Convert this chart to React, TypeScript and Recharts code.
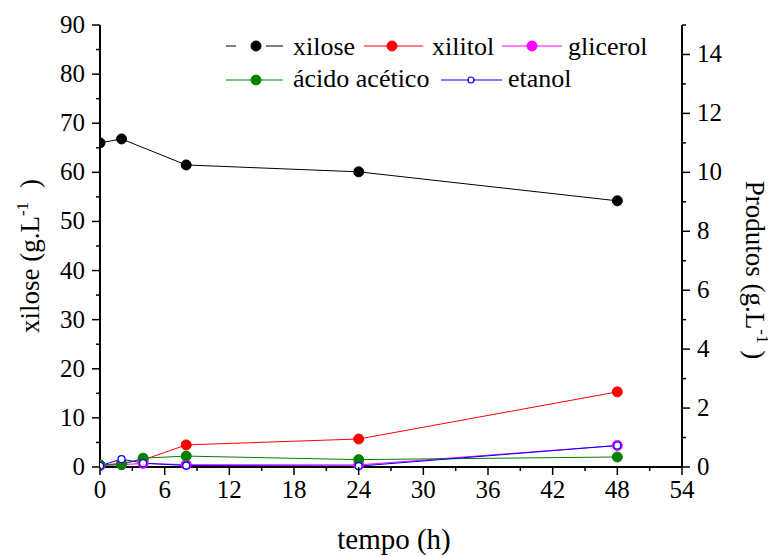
import React from "react";
import { LineChart, Line, XAxis, YAxis } from "recharts";

// tempo (h)
const tempo = [0, 2, 4, 8, 24, 48];
// left axis, g/L
const xilose = [66.0, 66.8, null, 61.5, 60.1, 54.2];
// right axis, g/L
const xilitol = [0.05, 0.13, 0.24, 0.75, 0.95, 2.55];
const glicerol = [0.05, 0.08, 0.12, 0.08, 0.07, 0.73];
const acidoAcetico = [0.07, 0.08, 0.3, 0.37, 0.25, 0.34];
const etanol = [0.04, 0.27, 0.13, 0.05, 0.03, 0.73];

const xTicks = [0, 3, 6, 9, 12, 15, 18, 21, 24, 27, 30, 33, 36, 39, 42, 45, 48, 51, 54];
const leftTicks = [0, 5, 10, 15, 20, 25, 30, 35, 40, 45, 50, 55, 60, 65, 70, 75, 80, 85, 90];
const rightTicks = [0, 1, 2, 3, 4, 5, 6, 7, 8, 9, 10, 11, 12, 13, 14, 15];

const rows = tempo.map((t, i) => ({
    tempo: t,
    xilose: xilose[i],
    xilitol: xilitol[i],
    glicerol: glicerol[i],
    acidoAcetico: acidoAcetico[i],
    etanol: etanol[i],
}));

const FONT = "Liberation Serif, DejaVu Serif, Times New Roman, serif";
const TICK_FONT = 25;
const txt = { fontFamily: FONT };

const BottomTick = ({ x, y, payload }: any) => {
    const major = payload.value % 6 === 0;
    return (
        <g>
            <line x1={x} x2={x} y1={y} y2={y + (major ? 8 : 4)} stroke="#000" strokeWidth={1.5} />
            {major && (
                <text x={x} y={y + 31} textAnchor="middle" style={txt} fontSize={TICK_FONT} fill="#000">
                    {payload.value}
                </text>
            )}
        </g>
    );
};

const TopTick = ({ x, y }: any) => (
    <line x1={x} x2={x} y1={y} y2={y + 5} stroke="#000" strokeWidth={1.5} />
);

const LeftTick = ({ x, y, payload }: any) => {
    const major = payload.value % 10 === 0;
    return (
        <g>
            <line x1={x} x2={x - (major ? 8 : 4)} y1={y} y2={y} stroke="#000" strokeWidth={1.5} />
            {major && (
                <text x={x - 15} y={y + 8} textAnchor="end" style={txt} fontSize={TICK_FONT} fill="#000">
                    {payload.value}
                </text>
            )}
        </g>
    );
};

const RightTick = ({ x, y, payload }: any) => {
    const major = payload.value % 2 === 0;
    return (
        <g>
            <line x1={x} x2={x + (major ? 8 : 4)} y1={y} y2={y} stroke="#000" strokeWidth={1.5} />
            {major && (
                <text x={x + 15} y={y + 8} textAnchor="start" style={txt} fontSize={TICK_FONT} fill="#000">
                    {payload.value}
                </text>
            )}
        </g>
    );
};

const legendRow1 = [
    { name: "xilose", color: "#000", line: [218, 275], gapAt: [228, 258], dot: 248, text: 285 },
    { name: "xilitol", color: "#ff0000", line: [356, 415], dot: 384, text: 424 },
    { name: "glicerol", color: "#ff00ff", line: [494, 554], dot: 524, text: 560 },
];
const legendRow2 = [
    { name: "ácido acético", color: "#008000", line: [218, 275], dot: 248, text: 285 },
    { name: "etanol", color: "#0000ff", line: [433, 494], dot: 463, text: 500, open: true },
];

const LegendItem = ({ item, cy, baseline }: any) => (
    <g>
        {item.gapAt ? (
            <>
                <line x1={item.line[0]} x2={item.gapAt[0]} y1={cy} y2={cy} stroke={item.color} strokeWidth={1} />
                <line x1={item.gapAt[1]} x2={item.line[1]} y1={cy} y2={cy} stroke={item.color} strokeWidth={1} />
            </>
        ) : (
            <line x1={item.line[0]} x2={item.line[1]} y1={cy} y2={cy} stroke={item.color} strokeWidth={1} />
        )}
        {item.open ? (
            <circle cx={item.dot} cy={cy} r={3} fill="#fff" stroke={item.color} strokeWidth={1.2} />
        ) : (
            <circle cx={item.dot} cy={cy} r={5} fill={item.color} stroke={item.color} />
        )}
        <text x={item.text} y={baseline} style={txt} fontSize={26} fill="#000">
            {item.name}
        </text>
    </g>
);

export default function App() {
    return (
        <div style={{ position: "relative", width: 768, height: 548, fontFamily: FONT }}>
            <LineChart
                width={768}
                height={548}
                data={rows}
                margin={{ top: 17, right: 34, bottom: 39, left: 32 }}
            >
                <XAxis
                    xAxisId="bottom"
                    dataKey="tempo"
                    type="number"
                    domain={[0, 54]}
                    allowDataOverflow
                    ticks={xTicks}
                    interval={0}
                    height={50}
                    tickLine={false}
                    tickSize={0}
                    tickMargin={0}
                    tick={<BottomTick />}
                    axisLine={{ stroke: "#000", strokeWidth: 2 }}
                />
                <XAxis
                    xAxisId="top"
                    orientation="top"
                    dataKey="tempo"
                    type="number"
                    domain={[0, 54]}
                    ticks={xTicks}
                    interval={0}
                    height={0}
                    tickLine={false}
                    tickSize={0}
                    tickMargin={0}
                    tick={<TopTick />}
                    axisLine={{ stroke: "#000", strokeWidth: 2 }}
                />
                <YAxis
                    yAxisId="left"
                    domain={[0, 90]}
                    ticks={leftTicks}
                    interval={0}
                    width={60}
                    tickLine={false}
                    tickSize={0}
                    tickMargin={0}
                    tick={<LeftTick />}
                    axisLine={{ stroke: "#000", strokeWidth: 2 }}
                />
                <YAxis
                    yAxisId="right"
                    orientation="right"
                    domain={[0, 15]}
                    ticks={rightTicks}
                    interval={0}
                    width={60}
                    tickLine={false}
                    tickSize={0}
                    tickMargin={0}
                    tick={<RightTick />}
                    axisLine={{ stroke: "#000", strokeWidth: 2 }}
                />
                <Line
                    xAxisId="bottom"
                    yAxisId="left"
                    dataKey="xilose"
                    type="linear"
                    stroke="#000"
                    strokeWidth={1}
                    connectNulls
                    dot={{ r: 5, fill: "#000", stroke: "#000", strokeWidth: 1 }}
                    activeDot={false}
                    isAnimationActive={false}
                />
                <Line
                    xAxisId="bottom"
                    yAxisId="right"
                    dataKey="xilitol"
                    type="linear"
                    stroke="#ff0000"
                    strokeWidth={1}
                    dot={{ r: 5, fill: "#ff0000", stroke: "#ff0000", strokeWidth: 1 }}
                    activeDot={false}
                    isAnimationActive={false}
                />
                <Line
                    xAxisId="bottom"
                    yAxisId="right"
                    dataKey="glicerol"
                    type="linear"
                    stroke="#ff00ff"
                    strokeWidth={1}
                    dot={{ r: 5, fill: "#ff00ff", stroke: "#ff00ff", strokeWidth: 1 }}
                    activeDot={false}
                    isAnimationActive={false}
                />
                <Line
                    xAxisId="bottom"
                    yAxisId="right"
                    dataKey="acidoAcetico"
                    type="linear"
                    stroke="#008000"
                    strokeWidth={1}
                    dot={{ r: 5, fill: "#008000", stroke: "#008000", strokeWidth: 1 }}
                    activeDot={false}
                    isAnimationActive={false}
                />
                <Line
                    xAxisId="bottom"
                    yAxisId="right"
                    dataKey="etanol"
                    type="linear"
                    stroke="#0000ff"
                    strokeWidth={1}
                    dot={{ r: 3.5, fill: "#fff", stroke: "#0000ff", strokeWidth: 1.2 }}
                    activeDot={false}
                    isAnimationActive={false}
                />
            </LineChart>
            <svg
                width={768}
                height={548}
                style={{ position: "absolute", left: 0, top: 0, pointerEvents: "none" }}
            >
                {legendRow1.map((it) => (
                    <LegendItem key={it.name} item={it} cy={38} baseline={47} />
                ))}
                {legendRow2.map((it) => (
                    <LegendItem key={it.name} item={it} cy={72} baseline={79} />
                ))}
                <text x={386} y={541} textAnchor="middle" style={txt} fontSize={29} fill="#000">
                    tempo (h)
                </text>
                <text
                    transform="translate(31,248) rotate(-90)"
                    textAnchor="middle"
                    style={txt}
                    fontSize={27}
                    fill="#000"
                >
                    xilose (g.L<tspan dy={-11} fontSize={17}>-1</tspan>
                    <tspan dy={11} dx={14}>)</tspan>
                </text>
                <text
                    transform="translate(738,262) rotate(90)"
                    textAnchor="middle"
                    style={txt}
                    fontSize={27}
                    fill="#000"
                >
                    Produtos (g.L<tspan dy={-11} fontSize={17}>-1</tspan>
                    <tspan dy={11}> )</tspan>
                </text>
            </svg>
        </div>
    );
}
